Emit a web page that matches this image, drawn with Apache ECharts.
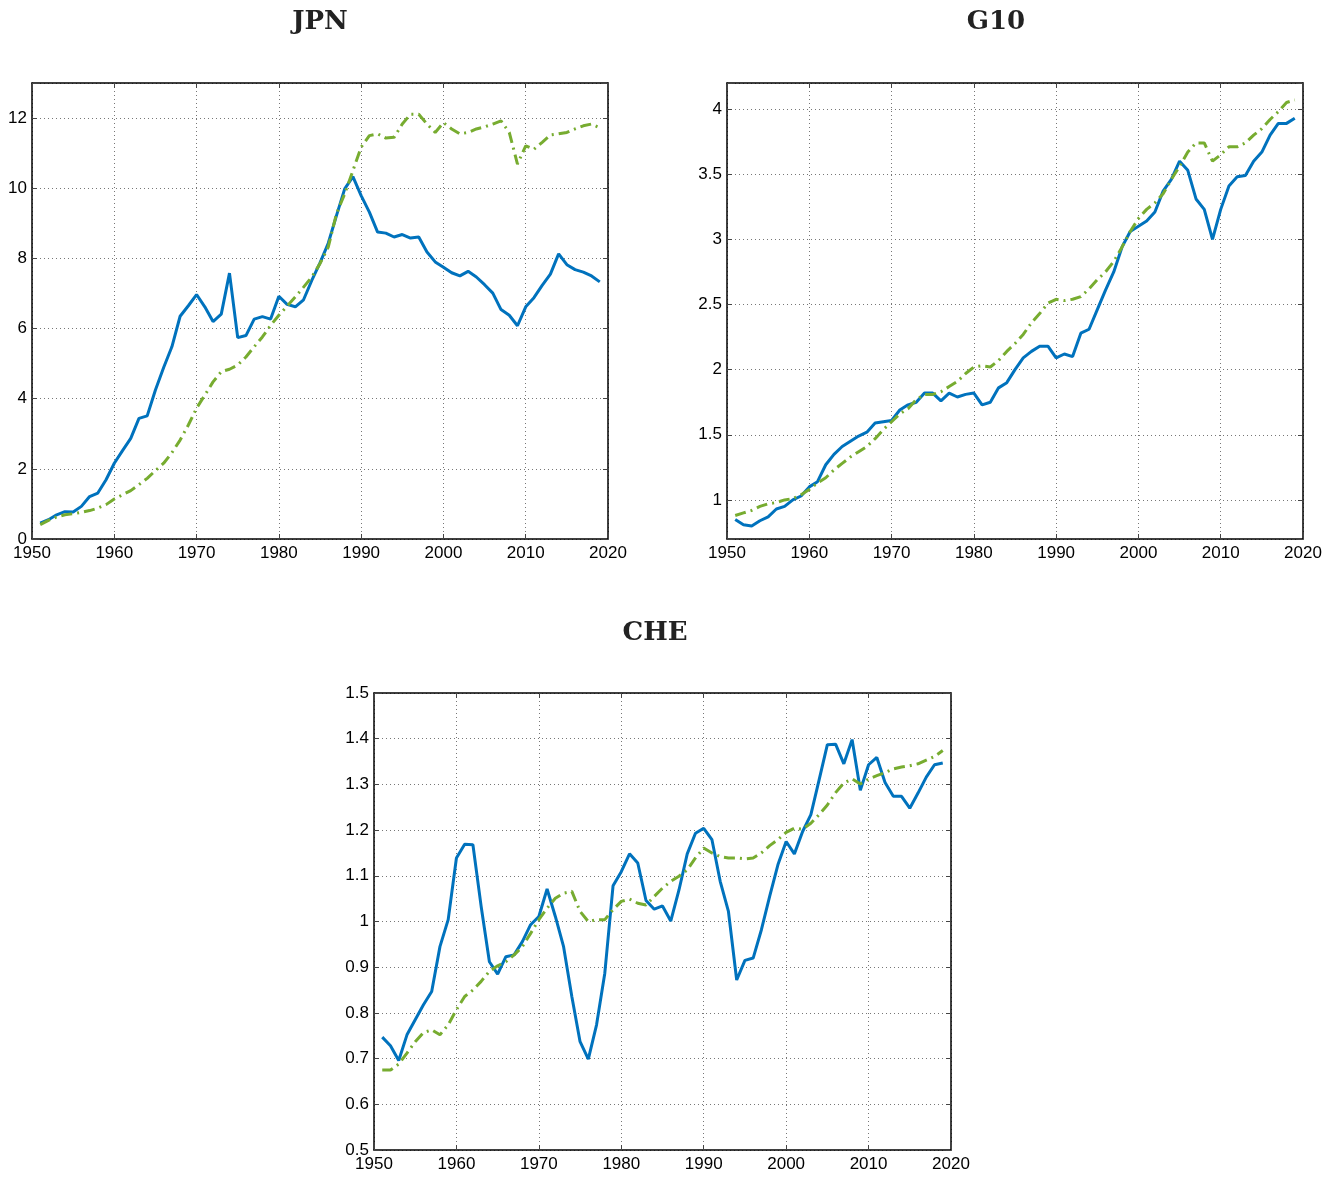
<!DOCTYPE html>
<html>
<head>
<meta charset="utf-8">
<script src="https://cdn.jsdelivr.net/npm/echarts@6/dist/echarts.min.js"></script>
<style>
  html, body { margin: 0; padding: 0; background: #ffffff; }
  #chart { width: 1341px; height: 1177px; }
</style>
</head>
<body>
<div id="chart"></div>
<script>
// Years covered by every series
const years = [
  1951, 1952, 1953, 1954, 1955, 1956, 1957, 1958, 1959, 1960,
  1961, 1962, 1963, 1964, 1965, 1966, 1967, 1968, 1969, 1970,
  1971, 1972, 1973, 1974, 1975, 1976, 1977, 1978, 1979, 1980,
  1981, 1982, 1983, 1984, 1985, 1986, 1987, 1988, 1989, 1990,
  1991, 1992, 1993, 1994, 1995, 1996, 1997, 1998, 1999, 2000,
  2001, 2002, 2003, 2004, 2005, 2006, 2007, 2008, 2009, 2010,
  2011, 2012, 2013, 2014, 2015, 2016, 2017, 2018, 2019
];

// JPN
const jpnActual = [
  0.45, 0.55, 0.69, 0.78, 0.77, 0.93, 1.21, 1.31, 1.69, 2.16,
  2.52, 2.87, 3.44, 3.51, 4.25, 4.89, 5.48, 6.35, 6.65, 6.97,
  6.62, 6.20, 6.41, 7.58, 5.74, 5.80, 6.27, 6.34, 6.27, 6.92,
  6.69, 6.62, 6.82, 7.37, 7.87, 8.43, 9.22, 9.98, 10.33, 9.79,
  9.32, 8.75, 8.72, 8.61, 8.68, 8.58, 8.61, 8.18, 7.90, 7.75,
  7.59, 7.50, 7.63, 7.47, 7.25, 7.01, 6.54, 6.38, 6.08, 6.62,
  6.88, 7.23, 7.55, 8.13, 7.82, 7.68, 7.61, 7.50, 7.33
];
const jpnTrend = [
  0.41, 0.53, 0.63, 0.69, 0.72, 0.76, 0.81, 0.88, 0.98, 1.14,
  1.26, 1.38, 1.55, 1.73, 1.95, 2.16, 2.46, 2.82, 3.25, 3.73,
  4.10, 4.48, 4.77, 4.84, 4.96, 5.19, 5.48, 5.76, 6.09, 6.38,
  6.64, 6.90, 7.18, 7.47, 7.85, 8.32, 9.27, 9.84, 10.50, 11.17,
  11.50, 11.55, 11.43, 11.45, 11.83, 12.11, 12.11, 11.83, 11.59, 11.87,
  11.69, 11.55, 11.59, 11.69, 11.75, 11.83, 11.92, 11.59, 10.69, 11.21,
  11.11, 11.31, 11.52, 11.55, 11.59, 11.69, 11.78, 11.83, 11.72
];

// G10
const g10Actual = [
  0.85, 0.81, 0.80, 0.84, 0.87, 0.93, 0.95, 1.00, 1.03, 1.10,
  1.14, 1.27, 1.35, 1.41, 1.45, 1.49, 1.52, 1.59, 1.60, 1.61,
  1.69, 1.73, 1.75, 1.82, 1.82, 1.76, 1.82, 1.79, 1.81, 1.82,
  1.73, 1.75, 1.86, 1.90, 2.00, 2.09, 2.14, 2.18, 2.18, 2.09,
  2.12, 2.10, 2.28, 2.31, 2.46, 2.61, 2.75, 2.94, 3.06, 3.10,
  3.14, 3.21, 3.37, 3.46, 3.60, 3.53, 3.31, 3.23, 3.00, 3.23,
  3.41, 3.48, 3.49, 3.60, 3.67, 3.80, 3.89, 3.89, 3.93
];
const g10Trend = [
  0.88, 0.90, 0.92, 0.95, 0.97, 0.98, 1.00, 1.01, 1.04, 1.08,
  1.13, 1.17, 1.23, 1.28, 1.33, 1.37, 1.41, 1.47, 1.54, 1.60,
  1.66, 1.70, 1.77, 1.81, 1.81, 1.83, 1.87, 1.91, 1.97, 2.02,
  2.03, 2.02, 2.07, 2.14, 2.20, 2.27, 2.36, 2.43, 2.51, 2.54,
  2.53, 2.54, 2.56, 2.62, 2.69, 2.75, 2.83, 2.94, 3.06, 3.16,
  3.23, 3.28, 3.35, 3.46, 3.56, 3.67, 3.74, 3.74, 3.60, 3.65,
  3.71, 3.71, 3.74, 3.80, 3.85, 3.92, 3.98, 4.05, 4.07
];

// CHE
const cheActual = [
  0.747, 0.728, 0.696, 0.752, 0.785, 0.818, 0.847, 0.945, 1.004, 1.139,
  1.169, 1.168, 1.033, 0.912, 0.885, 0.923, 0.927, 0.956, 0.993, 1.011,
  1.071, 1.011, 0.945, 0.836, 0.737, 0.699, 0.774, 0.887, 1.078, 1.109,
  1.148, 1.128, 1.046, 1.027, 1.034, 1.001, 1.069, 1.148, 1.193, 1.204,
  1.179, 1.088, 1.022, 0.872, 0.915, 0.920, 0.982, 1.055, 1.124, 1.175,
  1.148, 1.197, 1.234, 1.310, 1.387, 1.388, 1.345, 1.398, 1.287, 1.343,
  1.359, 1.304, 1.274, 1.274, 1.248, 1.281, 1.316, 1.343, 1.347
];
const cheTrend = [
  0.675, 0.675, 0.688, 0.712, 0.737, 0.757, 0.763, 0.752, 0.774, 0.807,
  0.836, 0.850, 0.869, 0.891, 0.903, 0.912, 0.927, 0.945, 0.974, 1.004,
  1.029, 1.051, 1.062, 1.066, 1.022, 1.000, 1.004, 1.004, 1.026, 1.044,
  1.049, 1.040, 1.036, 1.055, 1.073, 1.088, 1.099, 1.113, 1.139, 1.161,
  1.150, 1.142, 1.139, 1.139, 1.137, 1.139, 1.150, 1.166, 1.179, 1.195,
  1.204, 1.202, 1.215, 1.234, 1.255, 1.282, 1.303, 1.312, 1.301, 1.312,
  1.319, 1.326, 1.334, 1.338, 1.341, 1.345, 1.353, 1.361, 1.374
];

// Panel titles and x-axis ticks
const panelTitles = ['JPN', 'G10', 'CHE'];
const xTicks = [1950, 1960, 1970, 1980, 1990, 2000, 2010, 2020];

const BLUE = '#0072BD';
const GREEN = '#77AC30';
const LABEL_FONT = { fontFamily: '"Liberation Sans", Arial, sans-serif', fontSize: 17, color: '#000' };

const panels = [
  { title: panelTitles[0], actual: jpnActual, trend: jpnTrend,
    rect: { left: 32, top: 83, width: 576, height: 456 },
    yMin: 0, yMax: 13, yStep: 2, titleX: 320, titleY: 19 },
  { title: panelTitles[1], actual: g10Actual, trend: g10Trend,
    rect: { left: 727, top: 83, width: 576, height: 456 },
    yMin: 0.7, yMax: 4.2, yStep: 0.5, titleX: 996, titleY: 19 },
  { title: panelTitles[2], actual: cheActual, trend: cheTrend,
    rect: { left: 374, top: 693, width: 577, height: 457 },
    yMin: 0.5, yMax: 1.5, yStep: 0.1, titleX: 655, titleY: 630 }
];

function pairs(vals) {
  return years.map((y, i) => [y, vals[i]]);
}

function isStep(v, step) {
  const k = v / step;
  return Math.abs(k - Math.round(k)) < 1e-6;
}

const option = {
  backgroundColor: '#ffffff',
  animation: false,
  title: [],
  grid: [],
  xAxis: [],
  yAxis: [],
  series: []
};

const tickStyle = { show: true, inside: true, length: 5, lineStyle: { color: '#444', width: 1 } };
const splitStyle = { show: true, lineStyle: { color: '#777', type: [1, 3], width: 1 } };
const lineAxis = { show: true, onZero: false, lineStyle: { color: '#000', width: 1.5 } };

panels.forEach((p, gi) => {
  option.title.push({
    text: p.title,
    left: p.titleX,
    top: p.titleY - 10,
    padding: 0,
    textAlign: 'center',
    textStyle: { fontFamily: '"DejaVu Serif", serif', fontWeight: 'bold', fontSize: 26, color: '#222' }
  });
  option.grid.push(Object.assign({ show: false }, p.rect));

  const xBase = { type: 'value', gridIndex: gi, min: 1950, max: 2020, interval: 10 };
  // bottom axis with labels and grid
  option.xAxis.push(Object.assign({}, xBase, {
    position: 'bottom',
    axisLine: lineAxis,
    axisTick: tickStyle,
    splitLine: splitStyle,
    axisLabel: Object.assign({ margin: 6, formatter: v => (xTicks.indexOf(v) >= 0 ? String(v) : '') }, LABEL_FONT)
  }));
  // top frame edge
  option.xAxis.push(Object.assign({}, xBase, {
    position: 'top',
    axisLine: lineAxis,
    axisTick: tickStyle,
    splitLine: { show: false },
    axisLabel: { show: false }
  }));

  const yBase = { type: 'value', gridIndex: gi, min: p.yMin, max: p.yMax };
  if (isStep(p.yMin, p.yStep)) {
    yBase.interval = p.yStep;
  } else {
    yBase.splitNumber = Math.round((p.yMax - p.yMin) / p.yStep);
  }
  const fmt = v => {
    if (!isStep(v, p.yStep)) return '';
    if (v <= p.yMin - 1e-9 || v > p.yMax + 1e-9) return '';
    return String(parseFloat(v.toFixed(2)));
  };
  option.yAxis.push(Object.assign({}, yBase, {
    position: 'left',
    axisLine: lineAxis,
    axisTick: tickStyle,
    splitLine: splitStyle,
    axisLabel: Object.assign({ margin: 5, formatter: fmt }, LABEL_FONT)
  }));
  option.yAxis.push(Object.assign({}, yBase, {
    position: 'right',
    axisLine: lineAxis,
    axisTick: tickStyle,
    splitLine: { show: false },
    axisLabel: { show: false }
  }));

  option.series.push({
    type: 'line',
    xAxisIndex: gi * 2,
    yAxisIndex: gi * 2,
    data: pairs(p.actual),
    showSymbol: false,
    lineStyle: { color: BLUE, width: 3 },
    itemStyle: { color: BLUE },
    z: 3
  });
  option.series.push({
    type: 'line',
    xAxisIndex: gi * 2,
    yAxisIndex: gi * 2,
    data: pairs(p.trend),
    showSymbol: false,
    lineStyle: { color: GREEN, width: 3, type: [11, 5, 2, 5] },
    itemStyle: { color: GREEN },
    z: 4
  });
});

const chart = echarts.init(document.getElementById('chart'), null, { renderer: 'canvas' });
chart.setOption(option);
</script>
</body>
</html>
